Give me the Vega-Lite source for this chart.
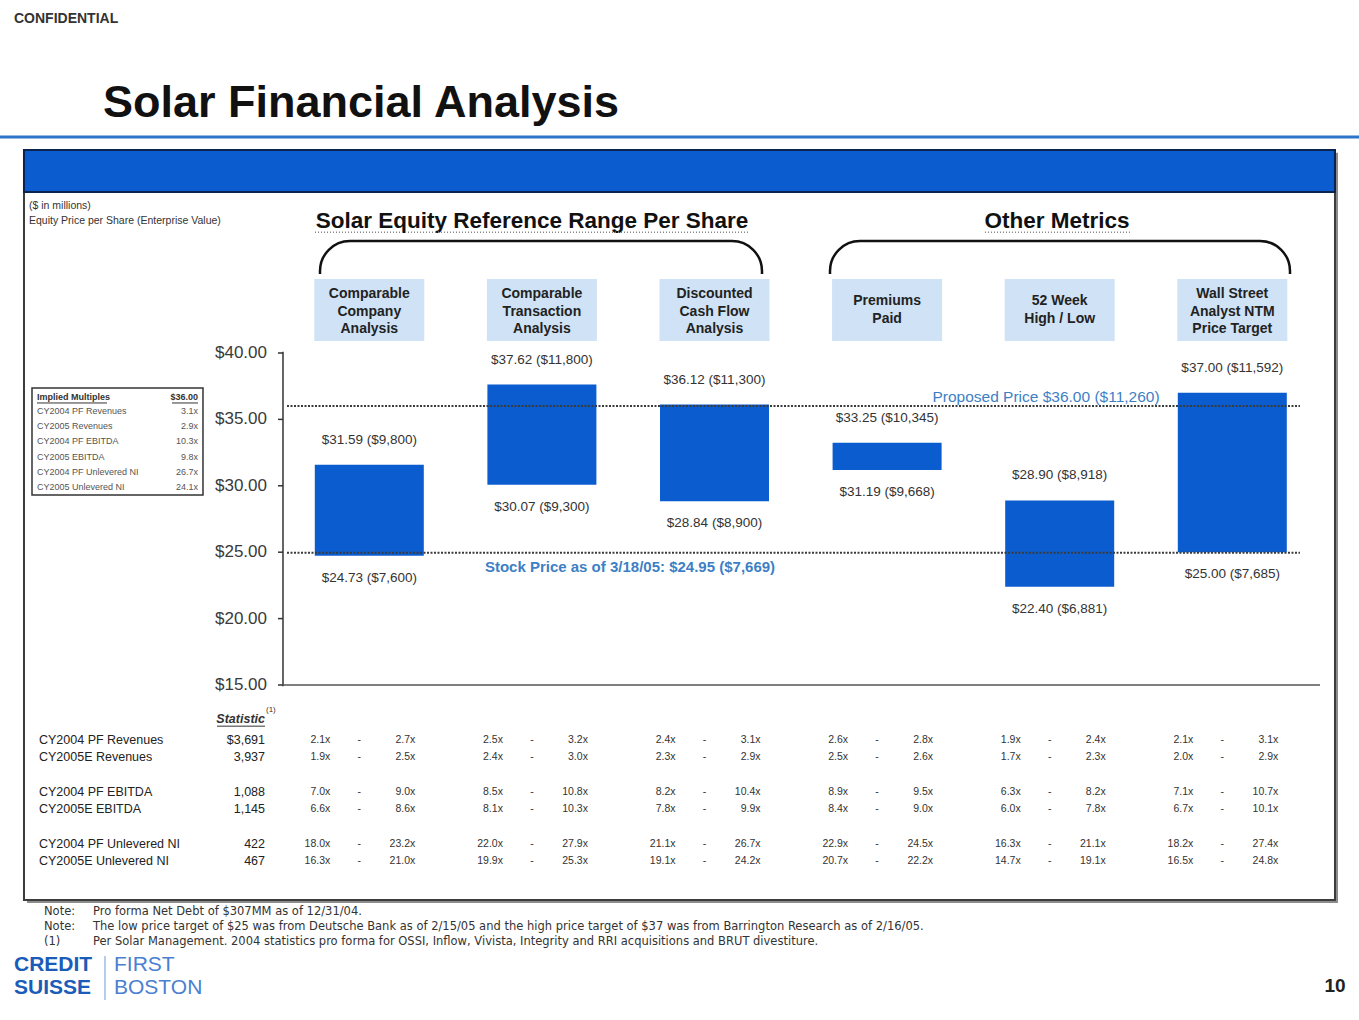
{
"$schema":"https://vega.github.io/schema/vega-lite/v6.json",
"width":1359,"height":1020,
"autosize":{"type":"none"},
"padding":0,
"background":"#ffffff",
"config":{"view":{"stroke":null},"font":"Liberation Sans","text":{"font":"Liberation Sans"},"scale":{"continuousPadding":0}},
"datasets":{
"bars":[
{"pos":1,"name":"Comparable\nCompany\nAnalysis","low":24.73,"high":31.59,"lowText":"$24.73 ($7,600)","highText":"$31.59 ($9,800)"},
{"pos":2,"name":"Comparable\nTransaction\nAnalysis","low":30.07,"high":37.62,"lowText":"$30.07 ($9,300)","highText":"$37.62 ($11,800)"},
{"pos":3,"name":"Discounted\nCash Flow\nAnalysis","low":28.84,"high":36.12,"lowText":"$28.84 ($8,900)","highText":"$36.12 ($11,300)"},
{"pos":4,"name":"Premiums\nPaid","low":31.19,"high":33.25,"lowText":"$31.19 ($9,668)","highText":"$33.25 ($10,345)"},
{"pos":5,"name":"52 Week\nHigh / Low","low":22.40,"high":28.90,"lowText":"$22.40 ($6,881)","highText":"$28.90 ($8,918)"},
{"pos":6,"name":"Wall Street\nAnalyst NTM\nPrice Target","low":25.00,"high":37.00,"lowText":"$25.00 ($7,685)","highText":"$37.00 ($11,592)"}
],
"yticks":[{"v":15},{"v":20},{"v":25},{"v":30},{"v":35},{"v":40}],
"refs":[
{"name":"Proposed Price","value":36.00,"label":"Proposed Price $36.00 ($11,260)"},
{"name":"Stock Price","value":24.95,"label":"Stock Price as of 3/18/05: $24.95 ($7,669)"}
],
"stats":[
{"metric":"CY2004 PF Revenues","slot":0,"stat":"$3,691"},
{"metric":"CY2005E Revenues","slot":1,"stat":"3,937"},
{"metric":"CY2004 PF EBITDA","slot":3,"stat":"1,088"},
{"metric":"CY2005E EBITDA","slot":4,"stat":"1,145"},
{"metric":"CY2004 PF Unlevered NI","slot":6,"stat":"422"},
{"metric":"CY2005E Unlevered NI","slot":7,"stat":"467"}
],
"multiples":[
{"pos":1,"slot":0,"low":"2.1x","high":"2.7x"},{"pos":1,"slot":1,"low":"1.9x","high":"2.5x"},{"pos":1,"slot":3,"low":"7.0x","high":"9.0x"},{"pos":1,"slot":4,"low":"6.6x","high":"8.6x"},{"pos":1,"slot":6,"low":"18.0x","high":"23.2x"},{"pos":1,"slot":7,"low":"16.3x","high":"21.0x"},
{"pos":2,"slot":0,"low":"2.5x","high":"3.2x"},{"pos":2,"slot":1,"low":"2.4x","high":"3.0x"},{"pos":2,"slot":3,"low":"8.5x","high":"10.8x"},{"pos":2,"slot":4,"low":"8.1x","high":"10.3x"},{"pos":2,"slot":6,"low":"22.0x","high":"27.9x"},{"pos":2,"slot":7,"low":"19.9x","high":"25.3x"},
{"pos":3,"slot":0,"low":"2.4x","high":"3.1x"},{"pos":3,"slot":1,"low":"2.3x","high":"2.9x"},{"pos":3,"slot":3,"low":"8.2x","high":"10.4x"},{"pos":3,"slot":4,"low":"7.8x","high":"9.9x"},{"pos":3,"slot":6,"low":"21.1x","high":"26.7x"},{"pos":3,"slot":7,"low":"19.1x","high":"24.2x"},
{"pos":4,"slot":0,"low":"2.6x","high":"2.8x"},{"pos":4,"slot":1,"low":"2.5x","high":"2.6x"},{"pos":4,"slot":3,"low":"8.9x","high":"9.5x"},{"pos":4,"slot":4,"low":"8.4x","high":"9.0x"},{"pos":4,"slot":6,"low":"22.9x","high":"24.5x"},{"pos":4,"slot":7,"low":"20.7x","high":"22.2x"},
{"pos":5,"slot":0,"low":"1.9x","high":"2.4x"},{"pos":5,"slot":1,"low":"1.7x","high":"2.3x"},{"pos":5,"slot":3,"low":"6.3x","high":"8.2x"},{"pos":5,"slot":4,"low":"6.0x","high":"7.8x"},{"pos":5,"slot":6,"low":"16.3x","high":"21.1x"},{"pos":5,"slot":7,"low":"14.7x","high":"19.1x"},
{"pos":6,"slot":0,"low":"2.1x","high":"3.1x"},{"pos":6,"slot":1,"low":"2.0x","high":"2.9x"},{"pos":6,"slot":3,"low":"7.1x","high":"10.7x"},{"pos":6,"slot":4,"low":"6.7x","high":"10.1x"},{"pos":6,"slot":6,"low":"18.2x","high":"27.4x"},{"pos":6,"slot":7,"low":"16.5x","high":"24.8x"}
],
"inset":[
{"line":1,"metric":"CY2004 PF Revenues","mult":"3.1x"},
{"line":2,"metric":"CY2005 Revenues","mult":"2.9x"},
{"line":3,"metric":"CY2004 PF EBITDA","mult":"10.3x"},
{"line":4,"metric":"CY2005 EBITDA","mult":"9.8x"},
{"line":5,"metric":"CY2004 PF Unlevered NI","mult":"26.7x"},
{"line":6,"metric":"CY2005 Unlevered NI","mult":"24.1x"}
]
},
"resolve":{"scale":{"y":"independent"}},
"layer":[
{"layer":[
{"data":{"values":[{}]},"mark":{"type":"rect","color":"#8c8c8c"},"encoding":{"x":{"datum":-0.983,"type":"quantitative","scale":{"domain":[-1.1396,6.7341],"nice":false,"zero":false},"axis":null},"x2":{"datum":6.6124},"y":{"datum":55.07,"type":"quantitative","scale":{"domain":[-10.226,66.58],"nice":false,"zero":false},"axis":null},"y2":{"datum":-1.42}}},
{"data":{"values":[{}]},"mark":{"type":"rect","fill":"#ffffff","stroke":"#3c3c3c","strokeWidth":2},"encoding":{"x":{"datum":-1.0006,"type":"quantitative","scale":{"domain":[-1.1396,6.7341],"nice":false,"zero":false},"axis":null},"x2":{"datum":6.595},"y":{"datum":55.29,"type":"quantitative","scale":{"domain":[-10.226,66.58],"nice":false,"zero":false},"axis":null},"y2":{"datum":-1.19}}},
{"data":{"values":[{}]},"mark":{"type":"rect","fill":"#0b5ccf","stroke":"#0a2450","strokeWidth":2},"encoding":{"x":{"datum":-1.0006,"type":"quantitative","scale":{"domain":[-1.1396,6.7341],"nice":false,"zero":false},"axis":null},"x2":{"datum":6.595},"y":{"datum":55.29,"type":"quantitative","scale":{"domain":[-10.226,66.58],"nice":false,"zero":false},"axis":null},"y2":{"datum":52.12}}},
{"data":{"values":[{}]},"mark":{"type":"rule","color":"#2e74c9","strokeWidth":3},"encoding":{"x":{"datum":-1.1396,"type":"quantitative","scale":{"domain":[-1.1396,6.7341],"nice":false,"zero":false},"axis":null},"x2":{"datum":6.7341},"y":{"datum":56.265,"type":"quantitative","scale":{"domain":[-10.226,66.58],"nice":false,"zero":false},"axis":null}}},
{"data":{"values":[{"t":"CONFIDENTIAL"}]},"mark":{"type":"text","align":"left","baseline":"middle","fontSize":14,"fontWeight":"bold","color":"#333333"},"encoding":{"x":{"datum":-1.0585,"type":"quantitative","scale":{"domain":[-1.1396,6.7341],"nice":false,"zero":false},"axis":null},"y":{"datum":65.15,"type":"quantitative","scale":{"domain":[-10.226,66.58],"nice":false,"zero":false},"axis":null},"text":{"field":"t"}}},
{"data":{"values":[{"t":"Solar Financial Analysis"}]},"mark":{"type":"text","align":"left","baseline":"middle","fontSize":45,"fontWeight":"bold","color":"#111111"},"encoding":{"x":{"datum":-0.5429,"type":"quantitative","scale":{"domain":[-1.1396,6.7341],"nice":false,"zero":false},"axis":null},"y":{"datum":58.83,"type":"quantitative","scale":{"domain":[-10.226,66.58],"nice":false,"zero":false},"axis":null},"text":{"field":"t"}}},
{"data":{"values":[{"t":"($ in millions)\nEquity Price per Share (Enterprise Value)"}]},"mark":{"type":"text","align":"left","baseline":"middle","fontSize":10.5,"lineBreak":"\n","lineHeight":15,"color":"#333333"},"encoding":{"x":{"datum":-0.9716,"type":"quantitative","scale":{"domain":[-1.1396,6.7341],"nice":false,"zero":false},"axis":null},"y":{"datum":51.07,"type":"quantitative","scale":{"domain":[-10.226,66.58],"nice":false,"zero":false},"axis":null},"text":{"field":"t"}}},
{"data":{"values":[{"t":"Solar Equity Reference Range Per Share"}]},"mark":{"type":"text","align":"center","baseline":"middle","fontSize":22.5,"fontWeight":"bold","color":"#111111"},"encoding":{"x":{"datum":1.9426,"type":"quantitative","scale":{"domain":[-1.1396,6.7341],"nice":false,"zero":false},"axis":null},"y":{"datum":49.94,"type":"quantitative","scale":{"domain":[-10.226,66.58],"nice":false,"zero":false},"axis":null},"text":{"field":"t"}}},
{"data":{"values":[{"t":"Other Metrics"}]},"mark":{"type":"text","align":"center","baseline":"middle","fontSize":22.5,"fontWeight":"bold","color":"#111111"},"encoding":{"x":{"datum":4.9843,"type":"quantitative","scale":{"domain":[-1.1396,6.7341],"nice":false,"zero":false},"axis":null},"y":{"datum":49.94,"type":"quantitative","scale":{"domain":[-10.226,66.58],"nice":false,"zero":false},"axis":null},"text":{"field":"t"}}},
{"data":{"values":[{}]},"mark":{"type":"rule","color":"#888888","strokeWidth":1.5,"strokeDash":[1,2]},"encoding":{"x":{"datum":0.6854,"type":"quantitative","scale":{"domain":[-1.1396,6.7341],"nice":false,"zero":false},"axis":null},"x2":{"datum":3.2057},"y":{"datum":49.1,"type":"quantitative","scale":{"domain":[-10.226,66.58],"nice":false,"zero":false},"axis":null}}},
{"data":{"values":[{}]},"mark":{"type":"rule","color":"#888888","strokeWidth":1.5,"strokeDash":[1,2]},"encoding":{"x":{"datum":4.567,"type":"quantitative","scale":{"domain":[-1.1396,6.7341],"nice":false,"zero":false},"axis":null},"x2":{"datum":5.4073},"y":{"datum":49.1,"type":"quantitative","scale":{"domain":[-10.226,66.58],"nice":false,"zero":false},"axis":null}}},
{"data":{"values":[{}]},"mark":{"type":"rect","filled":false,"color":"#111111","strokeWidth":2.5,"cornerRadius":30},"encoding":{"x":{"datum":0.7144,"type":"quantitative","scale":{"domain":[-1.1396,6.7341],"nice":false,"zero":false},"axis":null},"x2":{"datum":3.2752},"y":{"datum":48.43,"type":"quantitative","scale":{"domain":[-10.226,66.58],"nice":false,"zero":false},"axis":null},"y2":{"datum":42.48}}},
{"data":{"values":[{}]},"mark":{"type":"rect","filled":false,"color":"#111111","strokeWidth":2.5,"cornerRadius":30},"encoding":{"x":{"datum":3.6692,"type":"quantitative","scale":{"domain":[-1.1396,6.7341],"nice":false,"zero":false},"axis":null},"x2":{"datum":6.3343},"y":{"datum":48.43,"type":"quantitative","scale":{"domain":[-10.226,66.58],"nice":false,"zero":false},"axis":null},"y2":{"datum":42.48}}},
{"data":{"values":[{}]},"mark":{"type":"rect","color":"#ffffff"},"encoding":{"x":{"datum":0.66,"type":"quantitative","scale":{"domain":[-1.1396,6.7341],"nice":false,"zero":false},"axis":null},"x2":{"datum":3.33},"y":{"datum":45.95,"type":"quantitative","scale":{"domain":[-10.226,66.58],"nice":false,"zero":false},"axis":null},"y2":{"datum":40.5}}},
{"data":{"values":[{}]},"mark":{"type":"rect","color":"#ffffff"},"encoding":{"x":{"datum":3.61,"type":"quantitative","scale":{"domain":[-1.1396,6.7341],"nice":false,"zero":false},"axis":null},"x2":{"datum":6.39},"y":{"datum":45.95,"type":"quantitative","scale":{"domain":[-10.226,66.58],"nice":false,"zero":false},"axis":null},"y2":{"datum":40.5}}},
{"data":{"name":"bars"},"mark":{"type":"bar","width":110,"color":"#cfe2f6"},"encoding":{"x":{"field":"pos","type":"quantitative","scale":{"domain":[-1.1396,6.7341],"nice":false,"zero":false},"axis":null},"y":{"datum":45.57,"type":"quantitative","scale":{"domain":[-10.226,66.58],"nice":false,"zero":false},"axis":null},"y2":{"datum":40.9}}},
{"data":{"name":"bars"},"transform":[{"filter":"datum.pos !== 4 && datum.pos !== 5"}],"mark":{"type":"text","align":"center","baseline":"middle","lineBreak":"\n","lineHeight":17.5,"fontSize":14,"fontWeight":"bold","color":"#222222"},"encoding":{"x":{"field":"pos","type":"quantitative","scale":{"domain":[-1.1396,6.7341],"nice":false,"zero":false},"axis":null},"y":{"datum":44.44,"type":"quantitative","scale":{"domain":[-10.226,66.58],"nice":false,"zero":false},"axis":null},"text":{"field":"name"}}},
{"data":{"name":"bars"},"transform":[{"filter":"datum.pos === 4 || datum.pos === 5"}],"mark":{"type":"text","align":"center","baseline":"middle","lineBreak":"\n","lineHeight":18.5,"fontSize":14,"fontWeight":"bold","color":"#222222"},"encoding":{"x":{"field":"pos","type":"quantitative","scale":{"domain":[-1.1396,6.7341],"nice":false,"zero":false},"axis":null},"y":{"datum":43.92,"type":"quantitative","scale":{"domain":[-10.226,66.58],"nice":false,"zero":false},"axis":null},"text":{"field":"name"}}},
{"data":{"values":[{}]},"mark":{"type":"rect","fill":"#ffffff","stroke":"#333333","strokeWidth":1.5},"encoding":{"x":{"datum":-0.9542,"type":"quantitative","scale":{"domain":[-1.1396,6.7341],"nice":false,"zero":false},"axis":null},"x2":{"datum":0.0365},"y":{"datum":37.36,"type":"quantitative","scale":{"domain":[-10.226,66.58],"nice":false,"zero":false},"axis":null},"y2":{"datum":29.31}}},
{"data":{"values":[{}]},"mark":{"type":"rule","color":"#333333","strokeWidth":1.5},"encoding":{"x":{"datum":0.5,"type":"quantitative","scale":{"domain":[-1.1396,6.7341],"nice":false,"zero":false},"axis":null},"y":{"datum":14.9,"type":"quantitative","scale":{"domain":[-10.226,66.58],"nice":false,"zero":false},"axis":null},"y2":{"datum":40.1}}},
{"data":{"values":[{}]},"mark":{"type":"rule","color":"#555555","strokeWidth":1.5},"encoding":{"x":{"datum":0.5,"type":"quantitative","scale":{"domain":[-1.1396,6.7341],"nice":false,"zero":false},"axis":null},"x2":{"datum":6.508},"y":{"datum":15,"type":"quantitative","scale":{"domain":[-10.226,66.58],"nice":false,"zero":false},"axis":null}}},
{"data":{"name":"yticks"},"mark":{"type":"rule","color":"#333333","strokeWidth":1.5},"encoding":{"x":{"datum":0.471,"type":"quantitative","scale":{"domain":[-1.1396,6.7341],"nice":false,"zero":false},"axis":null},"x2":{"datum":0.5},"y":{"field":"v","type":"quantitative","scale":{"domain":[-10.226,66.58],"nice":false,"zero":false},"axis":null}}},
{"data":{"name":"yticks"},"mark":{"type":"text","align":"right","baseline":"middle","dx":-16,"fontSize":17,"color":"#3a3a3a"},"encoding":{"x":{"datum":0.5,"type":"quantitative","scale":{"domain":[-1.1396,6.7341],"nice":false,"zero":false},"axis":null},"y":{"field":"v","type":"quantitative","scale":{"domain":[-10.226,66.58],"nice":false,"zero":false},"axis":null},"text":{"field":"v","type":"quantitative","format":"$.2f"}}},
{"data":{"name":"bars"},"mark":{"type":"bar","width":109,"color":"#0b5ccf"},"encoding":{"x":{"field":"pos","type":"quantitative","scale":{"domain":[-1.1396,6.7341],"nice":false,"zero":false},"axis":null},"y":{"field":"low","type":"quantitative","scale":{"domain":[-10.226,66.58],"nice":false,"zero":false},"axis":null},"y2":{"field":"high"}}},
{"data":{"name":"bars"},"mark":{"type":"text","align":"center","baseline":"middle","dy":-25,"fontSize":13.5,"color":"#333333"},"encoding":{"x":{"field":"pos","type":"quantitative","scale":{"domain":[-1.1396,6.7341],"nice":false,"zero":false},"axis":null},"y":{"field":"high","type":"quantitative","scale":{"domain":[-10.226,66.58],"nice":false,"zero":false},"axis":null},"text":{"field":"highText"}}},
{"data":{"name":"bars"},"mark":{"type":"text","align":"center","baseline":"middle","dy":22,"fontSize":13.5,"color":"#333333"},"encoding":{"x":{"field":"pos","type":"quantitative","scale":{"domain":[-1.1396,6.7341],"nice":false,"zero":false},"axis":null},"y":{"field":"low","type":"quantitative","scale":{"domain":[-10.226,66.58],"nice":false,"zero":false},"axis":null},"text":{"field":"lowText"}}},
{"data":{"name":"refs"},"mark":{"type":"rule","color":"#3a3a3a","strokeWidth":2,"strokeDash":[2,1.5]},"encoding":{"x":{"datum":0.5232,"type":"quantitative","scale":{"domain":[-1.1396,6.7341],"nice":false,"zero":false},"axis":null},"x2":{"datum":6.392},"y":{"field":"value","type":"quantitative","scale":{"domain":[-10.226,66.58],"nice":false,"zero":false},"axis":null}}},
{"data":{"name":"refs"},"transform":[{"filter":"datum.name === 'Proposed Price'"}],"mark":{"type":"text","align":"center","baseline":"middle","dy":-9,"fontSize":15.5,"color":"#3d7fc5"},"encoding":{"x":{"datum":4.9206,"type":"quantitative","scale":{"domain":[-1.1396,6.7341],"nice":false,"zero":false},"axis":null},"y":{"field":"value","type":"quantitative","scale":{"domain":[-10.226,66.58],"nice":false,"zero":false},"axis":null},"text":{"field":"label"}}},
{"data":{"name":"refs"},"transform":[{"filter":"datum.name === 'Stock Price'"}],"mark":{"type":"text","align":"center","baseline":"middle","dy":14,"fontSize":15,"fontWeight":"bold","color":"#3d7fc5"},"encoding":{"x":{"datum":2.5104,"type":"quantitative","scale":{"domain":[-1.1396,6.7341],"nice":false,"zero":false},"axis":null},"y":{"field":"value","type":"quantitative","scale":{"domain":[-10.226,66.58],"nice":false,"zero":false},"axis":null},"text":{"field":"label"}}},
{"data":{"values":[{"t":"Note:\nNote:\n(1)"}]},"mark":{"type":"text","align":"left","baseline":"middle","lineBreak":"\n","lineHeight":15,"fontSize":11.5,"font":"DejaVu Sans","color":"#333333"},"encoding":{"x":{"datum":-0.8847,"type":"quantitative","scale":{"domain":[-1.1396,6.7341],"nice":false,"zero":false},"axis":null},"y":{"datum":-2.093,"type":"quantitative","scale":{"domain":[-10.226,66.58],"nice":false,"zero":false},"axis":null},"text":{"field":"t"}}},
{"data":{"values":[{"t":"Pro forma Net Debt of $307MM as of 12/31/04.\nThe low price target of $25 was from Deutsche Bank as of  2/15/05 and the high price target of $37 was from Barrington Research as of 2/16/05.\nPer Solar Management.  2004 statistics pro forma for OSSI, Inflow, Vivista, Integrity and RRI acquisitions and BRUT divestiture."}]},"mark":{"type":"text","align":"left","baseline":"middle","lineBreak":"\n","lineHeight":15,"fontSize":11.5,"font":"DejaVu Sans","color":"#333333"},"encoding":{"x":{"datum":-0.6008,"type":"quantitative","scale":{"domain":[-1.1396,6.7341],"nice":false,"zero":false},"axis":null},"y":{"datum":-2.093,"type":"quantitative","scale":{"domain":[-10.226,66.58],"nice":false,"zero":false},"axis":null},"text":{"field":"t"}}},
{"data":{"values":[{"t":"CREDIT"}]},"mark":{"type":"text","align":"left","baseline":"middle","fontSize":21,"fontWeight":"bold","color":"#1a5cb8"},"encoding":{"x":{"datum":-1.0585,"type":"quantitative","scale":{"domain":[-1.1396,6.7341],"nice":false,"zero":false},"axis":null},"y":{"datum":-6.122,"type":"quantitative","scale":{"domain":[-10.226,66.58],"nice":false,"zero":false},"axis":null},"text":{"field":"t"}}},
{"data":{"values":[{"t":"SUISSE"}]},"mark":{"type":"text","align":"left","baseline":"middle","fontSize":21,"fontWeight":"bold","color":"#1a5cb8"},"encoding":{"x":{"datum":-1.0585,"type":"quantitative","scale":{"domain":[-1.1396,6.7341],"nice":false,"zero":false},"axis":null},"y":{"datum":-7.816,"type":"quantitative","scale":{"domain":[-10.226,66.58],"nice":false,"zero":false},"axis":null},"text":{"field":"t"}}},
{"data":{"values":[{}]},"mark":{"type":"rule","color":"#9dbce6","strokeWidth":1.5},"encoding":{"x":{"datum":-0.5313,"type":"quantitative","scale":{"domain":[-1.1396,6.7341],"nice":false,"zero":false},"axis":null},"y":{"datum":-5.407,"type":"quantitative","scale":{"domain":[-10.226,66.58],"nice":false,"zero":false},"axis":null},"y2":{"datum":-8.72}}},
{"data":{"values":[{"t":"FIRST"}]},"mark":{"type":"text","align":"left","baseline":"middle","fontSize":21,"color":"#4a80d0"},"encoding":{"x":{"datum":-0.4791,"type":"quantitative","scale":{"domain":[-1.1396,6.7341],"nice":false,"zero":false},"axis":null},"y":{"datum":-6.122,"type":"quantitative","scale":{"domain":[-10.226,66.58],"nice":false,"zero":false},"axis":null},"text":{"field":"t"}}},
{"data":{"values":[{"t":"BOSTON"}]},"mark":{"type":"text","align":"left","baseline":"middle","fontSize":21,"color":"#4a80d0"},"encoding":{"x":{"datum":-0.4791,"type":"quantitative","scale":{"domain":[-1.1396,6.7341],"nice":false,"zero":false},"axis":null},"y":{"datum":-7.816,"type":"quantitative","scale":{"domain":[-10.226,66.58],"nice":false,"zero":false},"axis":null},"text":{"field":"t"}}},
{"data":{"values":[{"t":"10"}]},"mark":{"type":"text","align":"center","baseline":"middle","fontSize":19,"fontWeight":"bold","color":"#222222"},"encoding":{"x":{"datum":6.595,"type":"quantitative","scale":{"domain":[-1.1396,6.7341],"nice":false,"zero":false},"axis":null},"y":{"datum":-7.666,"type":"quantitative","scale":{"domain":[-10.226,66.58],"nice":false,"zero":false},"axis":null},"text":{"field":"t"}}}
]},
{"layer":[
{"data":{"values":[{"t":"Statistic"}]},"mark":{"type":"text","align":"right","baseline":"middle","fontSize":12.5,"fontWeight":"bold","fontStyle":"italic","color":"#333333"},"encoding":{"x":{"datum":0.3957,"type":"quantitative","scale":{"domain":[-1.1396,6.7341],"nice":false,"zero":false},"axis":null},"y":{"datum":-1.2,"type":"quantitative","scale":{"domain":[-42.775,16.185],"nice":false,"zero":false,"reverse":true},"axis":null},"text":{"field":"t"}}},
{"data":{"values":[{}]},"mark":{"type":"rule","color":"#333333","strokeWidth":1},"encoding":{"x":{"datum":0.1176,"type":"quantitative","scale":{"domain":[-1.1396,6.7341],"nice":false,"zero":false},"axis":null},"x2":{"datum":0.3957},"y":{"datum":-0.8,"type":"quantitative","scale":{"domain":[-42.775,16.185],"nice":false,"zero":false,"reverse":true},"axis":null}}},
{"data":{"values":[{"t":"(1)"}]},"mark":{"type":"text","align":"left","baseline":"middle","fontSize":8,"color":"#333333"},"encoding":{"x":{"datum":0.4015,"type":"quantitative","scale":{"domain":[-1.1396,6.7341],"nice":false,"zero":false},"axis":null},"y":{"datum":-1.75,"type":"quantitative","scale":{"domain":[-42.775,16.185],"nice":false,"zero":false,"reverse":true},"axis":null},"text":{"field":"t"}}},
{"data":{"name":"stats"},"mark":{"type":"text","align":"left","baseline":"middle","fontSize":12.5,"color":"#222222"},"encoding":{"x":{"datum":-0.9137,"type":"quantitative","scale":{"domain":[-1.1396,6.7341],"nice":false,"zero":false},"axis":null},"y":{"field":"slot","type":"quantitative","scale":{"domain":[-42.775,16.185],"nice":false,"zero":false,"reverse":true},"axis":null},"text":{"field":"metric"}}},
{"data":{"name":"stats"},"mark":{"type":"text","align":"right","baseline":"middle","fontSize":12.5,"color":"#222222"},"encoding":{"x":{"datum":0.3957,"type":"quantitative","scale":{"domain":[-1.1396,6.7341],"nice":false,"zero":false},"axis":null},"y":{"field":"slot","type":"quantitative","scale":{"domain":[-42.775,16.185],"nice":false,"zero":false,"reverse":true},"axis":null},"text":{"field":"stat"}}},
{"data":{"name":"multiples"},"mark":{"type":"text","align":"right","baseline":"middle","dx":-39,"fontSize":10.5,"color":"#333333"},"encoding":{"x":{"field":"pos","type":"quantitative","scale":{"domain":[-1.1396,6.7341],"nice":false,"zero":false},"axis":null},"y":{"field":"slot","type":"quantitative","scale":{"domain":[-42.775,16.185],"nice":false,"zero":false,"reverse":true},"axis":null},"text":{"field":"low"}}},
{"data":{"name":"multiples"},"mark":{"type":"text","align":"center","baseline":"middle","dx":-10,"fontSize":10.5,"color":"#333333"},"encoding":{"x":{"field":"pos","type":"quantitative","scale":{"domain":[-1.1396,6.7341],"nice":false,"zero":false},"axis":null},"y":{"field":"slot","type":"quantitative","scale":{"domain":[-42.775,16.185],"nice":false,"zero":false,"reverse":true},"axis":null},"text":{"value":"-"}}},
{"data":{"name":"multiples"},"mark":{"type":"text","align":"right","baseline":"middle","dx":46,"fontSize":10.5,"color":"#333333"},"encoding":{"x":{"field":"pos","type":"quantitative","scale":{"domain":[-1.1396,6.7341],"nice":false,"zero":false},"axis":null},"y":{"field":"slot","type":"quantitative","scale":{"domain":[-42.775,16.185],"nice":false,"zero":false,"reverse":true},"axis":null},"text":{"field":"high"}}}
]},
{"layer":[
{"data":{"values":[{"t":"Implied Multiples"}]},"mark":{"type":"text","align":"left","baseline":"middle","fontSize":9,"fontWeight":"bold","color":"#333333"},"encoding":{"x":{"datum":-0.9253,"type":"quantitative","scale":{"domain":[-1.1396,6.7341],"nice":false,"zero":false},"axis":null},"y":{"datum":0.08,"type":"quantitative","scale":{"domain":[-26.04,41.07],"nice":false,"zero":false,"reverse":true},"axis":null},"text":{"field":"t"}}},
{"data":{"values":[{"t":"$36.00"}]},"mark":{"type":"text","align":"right","baseline":"middle","fontSize":9,"fontWeight":"bold","color":"#333333"},"encoding":{"x":{"datum":0.0075,"type":"quantitative","scale":{"domain":[-1.1396,6.7341],"nice":false,"zero":false},"axis":null},"y":{"datum":0.08,"type":"quantitative","scale":{"domain":[-26.04,41.07],"nice":false,"zero":false,"reverse":true},"axis":null},"text":{"field":"t"}}},
{"data":{"values":[{}]},"mark":{"type":"rule","color":"#333333","strokeWidth":1},"encoding":{"x":{"datum":-0.9253,"type":"quantitative","scale":{"domain":[-1.1396,6.7341],"nice":false,"zero":false},"axis":null},"x2":{"datum":-0.5197},"y":{"datum":0.474,"type":"quantitative","scale":{"domain":[-26.04,41.07],"nice":false,"zero":false,"reverse":true},"axis":null}}},
{"data":{"values":[{}]},"mark":{"type":"rule","color":"#333333","strokeWidth":1},"encoding":{"x":{"datum":-0.1431,"type":"quantitative","scale":{"domain":[-1.1396,6.7341],"nice":false,"zero":false},"axis":null},"x2":{"datum":0.0075},"y":{"datum":0.474,"type":"quantitative","scale":{"domain":[-26.04,41.07],"nice":false,"zero":false,"reverse":true},"axis":null}}},
{"data":{"name":"inset"},"mark":{"type":"text","align":"left","baseline":"middle","fontSize":9,"color":"#555555"},"encoding":{"x":{"datum":-0.9253,"type":"quantitative","scale":{"domain":[-1.1396,6.7341],"nice":false,"zero":false},"axis":null},"y":{"field":"line","type":"quantitative","scale":{"domain":[-26.04,41.07],"nice":false,"zero":false,"reverse":true},"axis":null},"text":{"field":"metric"}}},
{"data":{"name":"inset"},"mark":{"type":"text","align":"right","baseline":"middle","fontSize":9,"color":"#555555"},"encoding":{"x":{"datum":0.0075,"type":"quantitative","scale":{"domain":[-1.1396,6.7341],"nice":false,"zero":false},"axis":null},"y":{"field":"line","type":"quantitative","scale":{"domain":[-26.04,41.07],"nice":false,"zero":false,"reverse":true},"axis":null},"text":{"field":"mult"}}}
]}
]
}
